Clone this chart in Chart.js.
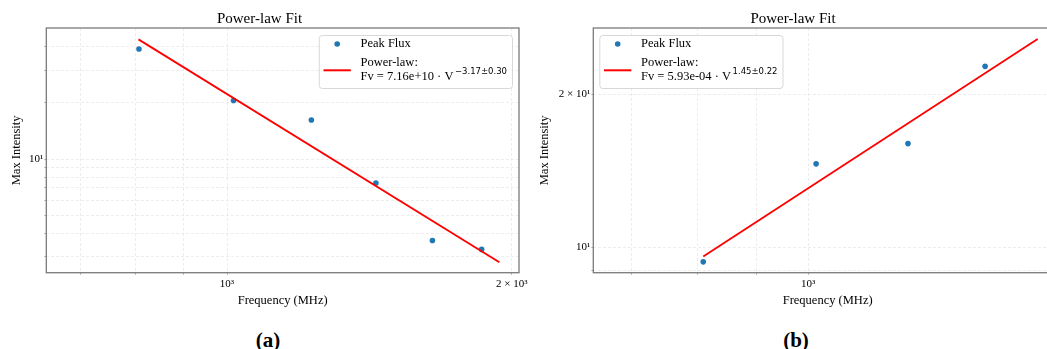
<!DOCTYPE html>
<html lang="en">
<head>
<meta charset="UTF-8">
<title>Power-law Fit</title>
<script src="https://cdn.jsdelivr.net/npm/chart.js"></script>
<style>
  html, body { margin: 0; padding: 0; background: #fff; overflow: hidden; }
  body { width: 1047px; height: 349px; position: relative; }
  .panel { position: absolute; top: 0; }
  .tag {
    position: absolute; top: 328px; line-height: 24px;
    font: bold 21px 'Liberation Serif', serif; color: #000;
    transform: translateX(-50%);
  }
</style>
</head>
<body>
<div class="panel" style="left:0"><canvas id="chartA" width="545" height="310"></canvas></div>
<div class="panel" style="left:524px"><canvas id="chartB" width="545" height="310"></canvas></div>
<div class="tag" style="left:268px">(a)</div>
<div class="tag" style="left:796px">(b)</div>

<script>
// panel (a): falling spectrum
const freqA = [807, 1016, 1228, 1437, 1649, 1859];
const fluxA = [38.9, 20.6, 16.2, 7.44, 3.66, 3.28];
const fitFreqA = [806, 1941];
const fitFluxA = [43.8, 2.8];
const xTicksA = [700, 800, 900, 1000, 2000];
const xLabelsA = ['', '', '', '10³', '2 × 10³'];
const yTicksA = [3, 4, 5, 6, 7, 8, 9, 10, 20, 30, 40];
const yLabelsA = ['', '', '', '', '', '', '', '10¹', '', '', ''];

// panel (b): rising spectrum
const freqB = [809, 1016, 1223, 1429];
const fluxB = [9.37, 14.6, 16.0, 22.7];
const fitFreqB = [809, 1589];
const fitFluxB = [9.6, 25.7];
const xTicksB = [700, 800, 900, 1000];
const xLabelsB = ['', '', '', '10³'];
const yTicksB = [9, 10, 20];
const yLabelsB = ['', '10¹', '2 × 10¹'];

const legendLabels = ['Peak Flux', 'Power-law:'];

Chart.defaults.font.family = "'Liberation Serif', 'Times New Roman', serif";
Chart.defaults.color = '#000';

// box around the plotting area
const framePlugin = {
  id: 'frame',
  afterDatasetsDraw(chart) {
    const { ctx, chartArea: a } = chart;
    ctx.save();
    ctx.strokeStyle = '#7a7a7a';
    ctx.lineWidth = 1.3;
    ctx.strokeRect(a.left, a.top, a.right - a.left, a.bottom - a.top);
    ctx.restore();
  }
};

// legend with a two-line entry and a superscript exponent
const fitLegend = {
  id: 'fitLegend',
  afterDraw(chart, args, opts) {
    const { ctx, chartArea } = chart;
    const font = "12.5px 'Liberation Serif', serif";
    const supFont = "8.5px 'DejaVu Sans', sans-serif";
    ctx.save();
    ctx.font = font;
    const w1 = ctx.measureText(opts.formula).width;
    ctx.font = supFont;
    const w2 = ctx.measureText(opts.exponent).width;
    const width = 41.7 + w1 + 1.5 + w2 + 5;
    const height = 53;
    const left = opts.side === 'right' ? chartArea.right - 7 - width : chartArea.left + 6;
    const top = chartArea.top + 7;

    ctx.fillStyle = 'rgba(255,255,255,0.85)';
    ctx.strokeStyle = '#d8d8d8';
    ctx.lineWidth = 1;
    ctx.beginPath();
    ctx.roundRect(left + 0.5, top + 0.5, width, height, 3);
    ctx.fill();
    ctx.stroke();

    ctx.fillStyle = '#1f77b4';
    ctx.beginPath();
    ctx.arc(left + 18.4, top + 9, 2.8, 0, Math.PI * 2);
    ctx.fill();

    ctx.strokeStyle = '#ff0000';
    ctx.lineWidth = 2;
    ctx.beginPath();
    ctx.moveTo(left + 4.7, top + 35.3);
    ctx.lineTo(left + 32, top + 35.3);
    ctx.stroke();

    ctx.fillStyle = '#000';
    ctx.textAlign = 'left';
    ctx.textBaseline = 'middle';
    ctx.font = font;
    ctx.fillText(legendLabels[0], left + 41.7, top + 9);
    ctx.fillText(legendLabels[1], left + 41.7, top + 27.3);
    ctx.fillText(opts.formula, left + 41.7, top + 41.3);
    ctx.font = supFont;
    ctx.fillText(opts.exponent, left + 41.7 + w1 + 1.5, top + 37);
    ctx.restore();
  }
};

function logAxis(p) {
  return {
    type: 'logarithmic',
    min: p.min,
    max: p.max,
    afterBuildTicks: s => { s.ticks = p.ticks.map(v => ({ value: v })); },
    afterFit: p.fit,
    ticks: {
      autoSkip: false,
      maxRotation: 0,
      padding: p.tickPad,
      color: '#000',
      font: { size: 11 },
      callback: (v, i) => p.labels[i]
    },
    grid: {
      color: '#e9e9e9',
      lineWidth: 0.8,
      drawTicks: true,
      tickLength: 2,
      tickColor: '#999',
      tickWidth: 0.8,
      tickBorderDash: []
    },
    border: { display: false, dash: [3, 2] },
    title: {
      display: true,
      text: p.title,
      color: '#000',
      font: { size: 12.5 },
      padding: p.titlePad
    }
  };
}

function buildChart(id, p) {
  return new Chart(document.getElementById(id), {
    type: 'scatter',
    data: {
      datasets: [
        {
          label: 'Peak Flux',
          data: p.freq.map((f, i) => ({ x: f, y: p.flux[i] })),
          backgroundColor: '#1f77b4',
          borderWidth: 0,
          pointRadius: 2.8,
          order: 2
        },
        {
          label: 'Power-law',
          data: p.fitFreq.map((f, i) => ({ x: f, y: p.fitFlux[i] })),
          showLine: true,
          borderColor: '#ff0000',
          borderWidth: 1.8,
          pointRadius: 0,
          order: 1
        }
      ]
    },
    options: {
      responsive: false,
      devicePixelRatio: 1,
      animation: false,
      layout: { padding: { left: 0, right: p.padRight, top: 0, bottom: 0 } },
      plugins: {
        legend: { display: false },
        tooltip: { enabled: false },
        title: {
          display: true,
          text: 'Power-law Fit',
          color: '#000',
          font: { size: 15, weight: 'normal', lineHeight: 1.2 },
          padding: { top: 10, bottom: 0 }
        },
        fitLegend: { side: p.legendSide, formula: p.formula, exponent: p.exponent }
      },
      scales: {
        x: logAxis({
          min: p.xMin, max: p.xMax, ticks: p.xTicks, labels: p.xLabels,
          tickPad: 3, title: 'Frequency (MHz)', titlePad: { top: 0, bottom: 2 },
          // edge labels may spill past the plot, keep its width fixed
          fit: s => { s.height = 37.3; s.paddingLeft = 0; s.paddingRight = 0; }
        }),
        y: logAxis({
          min: p.yMin, max: p.yMax, ticks: p.yTicks, labels: p.yLabels,
          tickPad: 1, title: 'Max Intensity', titlePad: { top: p.yTitlePad, bottom: 0 },
          fit: s => { s.width = p.yWidth; s.paddingTop = 0; s.paddingBottom = 0; }
        })
      }
    },
    plugins: [framePlugin, fitLegend]
  });
}

buildChart('chartA', {
  freq: freqA, flux: fluxA, fitFreq: fitFreqA, fitFlux: fitFluxA,
  xMin: 644, xMax: 2036, yMin: 2.46, yMax: 50.4,
  xTicks: xTicksA, xLabels: xLabelsA, yTicks: yTicksA, yLabels: yLabelsA,
  padRight: 26, yWidth: 46.3, yTitlePad: 9.2,
  legendSide: 'right', formula: 'Fv = 7.16e+10 · V', exponent: '−3.17±0.30'
});

buildChart('chartB', {
  freq: freqB, flux: fluxB, fitFreq: fitFreqB, fitFlux: fitFluxB,
  xMin: 648, xMax: 1669, yMin: 8.92, yMax: 27.0,
  xTicks: xTicksB, xLabels: xLabelsB, yTicks: yTicksB, yLabels: yLabelsB,
  padRight: 7, yWidth: 69.3, yTitlePad: 13.7,
  legendSide: 'left', formula: 'Fv = 5.93e-04 · V', exponent: '1.45±0.22'
});
</script>
</body>
</html>
